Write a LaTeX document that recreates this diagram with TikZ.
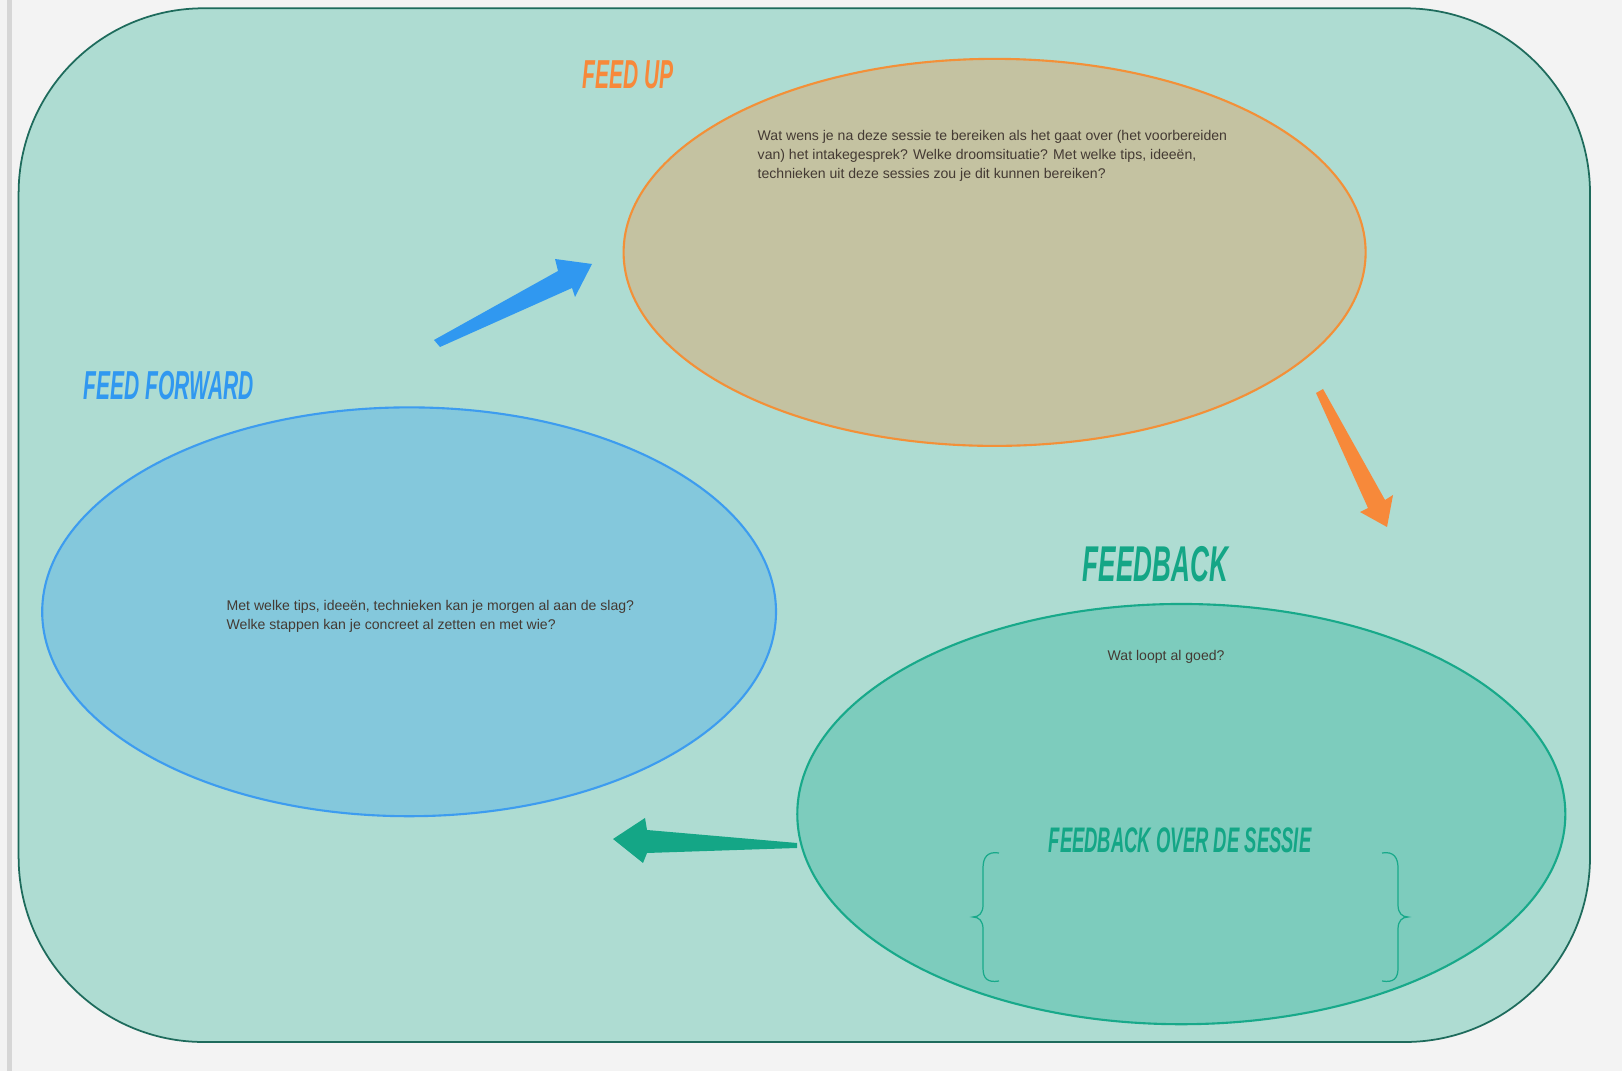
\documentclass[tikz,border=0pt]{standalone}
\usepackage{fontspec}
\setmainfont{Liberation Sans}
\newfontfamily\bangers[FakeStretch=0.52]{Liberation Sans}
\usetikzlibrary{shapes.geometric}
\definecolor{bgc}{HTML}{F3F3F3}
\definecolor{stripc}{HTML}{D6D6D6}
\definecolor{panelfill}{HTML}{AEDCD2}
\definecolor{panelline}{HTML}{1E6B5C}
\definecolor{upfill}{HTML}{C4C2A1}
\definecolor{upline}{HTML}{F39038}
\definecolor{upc}{HTML}{F7893A}
\definecolor{fffill}{HTML}{84C8DC}
\definecolor{ffline}{HTML}{3D9CEF}
\definecolor{ffc}{HTML}{3098F0}
\definecolor{fbfill}{HTML}{7DCCBD}
\definecolor{fbline}{HTML}{18A98A}
\definecolor{fbc}{HTML}{14A686}
\definecolor{txt}{HTML}{443A33}
\tikzset{
  bubble/.style={ellipse, inner sep=0pt, line width=0.6pt},
  body/.style={font=\fontsize{4.0}{5.3}\selectfont, text=txt, inner sep=0pt, align=left, anchor=north west},
  title/.style={font=\bangers\bfseries\itshape, inner sep=0pt, anchor=base west},
  bracestyle/.style={draw=fbline, line width=0.35pt},
}
\begin{document}
\begin{tikzpicture}[x=0.01cm,y=-0.01cm]
\useasboundingbox (0,0) rectangle (1622,1071);
\fill[bgc] (0,0) rectangle (1622,1071);
\fill[stripc] (7,0) rectangle (12,1071);
\draw[fill=panelfill, draw=panelline, line width=0.5pt, rounded corners=1.85cm] (18.6,8.3) rectangle (1590,1042);

% ellipses
\node[bubble, draw=upline, fill=upfill, minimum width=7.416cm, minimum height=3.868cm] (fu) at (994.6,252.4) {};
\node[bubble, draw=ffline, fill=fffill, minimum width=7.334cm, minimum height=4.086cm] (ff) at (409.1,611.8) {};
\node[bubble, draw=fbline, fill=fbfill, minimum width=7.676cm, minimum height=4.20cm] (fb) at (1181.3,814.1) {};

% titles
\node[title, text=upc, font=\bangers\bfseries\itshape\fontsize{11.5}{12}\selectfont] (tup) at (582,89) {FEED UP};
\node[title, text=ffc, font=\bangers\bfseries\itshape\fontsize{11.5}{12}\selectfont] (tff) at (83,400) {FEED FORWARD};
\node[title, text=fbc, font=\bangers\bfseries\itshape\fontsize{14.3}{15}\selectfont] (tfb) at (1082,582) {FEEDBACK};
\node[title, text=fbc, font=\bangers\bfseries\itshape\fontsize{10.1}{11}\selectfont] (tses) at (1048,853) {FEEDBACK OVER DE SESSIE};

% body texts
\node[body] (fut) at (757,130) {Wat wens je na deze sessie te bereiken als het gaat over (het voorbereiden\\van) het intakegesprek? Welke droomsituatie? Met welke tips, ideeën,\\technieken uit deze sessies zou je dit kunnen bereiken?};
\node[body] (fft) at (226,600) {Met welke tips, ideeën, technieken kan je morgen al aan de slag?\\Welke stappen kan je concreet al zetten en met wie?};
\node[body] (fbt) at (1107,650) {Wat loopt al goed?};

% braces
\draw[bracestyle] (999,853) .. controls (987,851) and (983,858) .. (983,868) -- (983,905) .. controls (983,913) and (979,917) .. (973,917) .. controls (979,917) and (983,921) .. (983,929) -- (983,968) .. controls (983,978) and (987,983) .. (999,981);
\draw[bracestyle] (1382,853) .. controls (1394,851) and (1398,858) .. (1398,868) -- (1398,905) .. controls (1398,913) and (1402,917) .. (1408,917) .. controls (1402,917) and (1398,921) .. (1398,929) -- (1398,968) .. controls (1398,978) and (1394,983) .. (1382,981);

% block arrows
\fill[ffc] (434,340) -- (558,271) -- (555,259) -- (592,264) -- (575,297) -- (572,288) -- (440,347) -- cycle;
\fill[upc] (1316,393) -- (1323,389) -- (1385,500) -- (1393,495) -- (1387,527) -- (1360,512) -- (1368,508) -- cycle;
\fill[fbc] (613,839) -- (645,818) -- (647,830) -- (797,843) -- (797,848) -- (647,853) -- (643,863) -- cycle;
\end{tikzpicture}
\end{document}
